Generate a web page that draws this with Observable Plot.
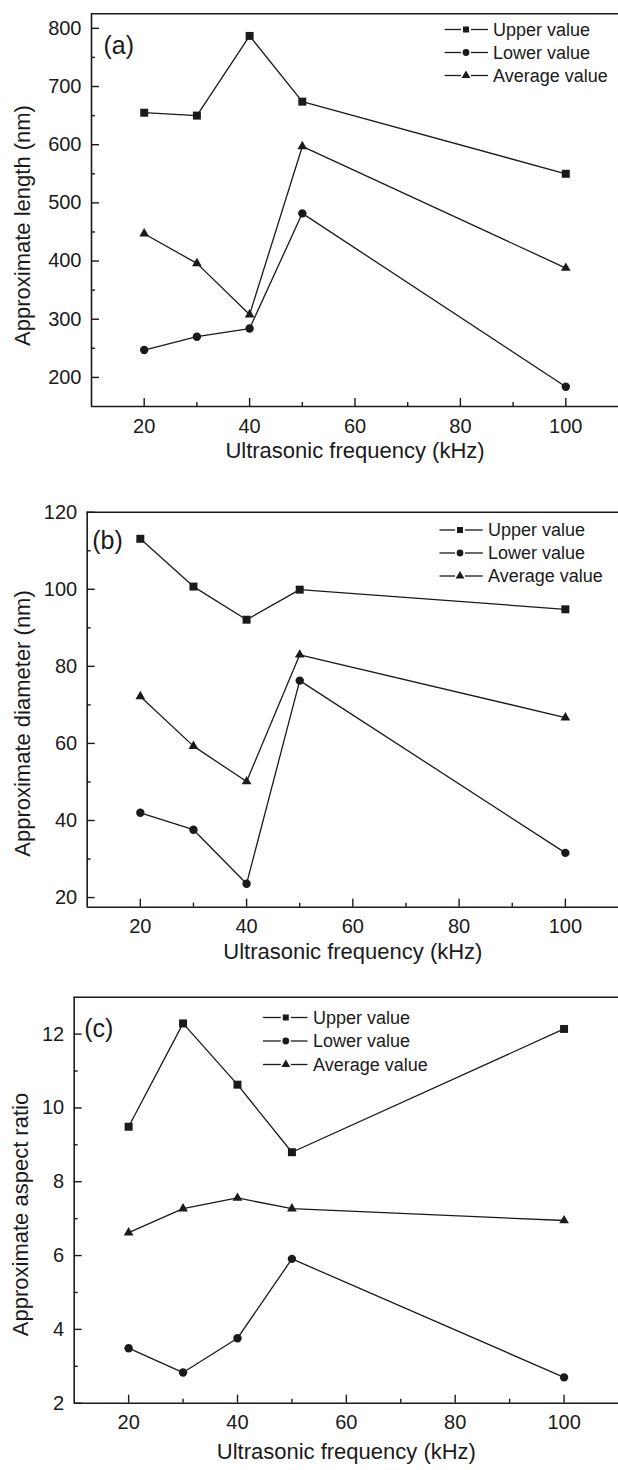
<!DOCTYPE html>
<html><head><meta charset="utf-8">
<script src="https://cdn.jsdelivr.net/npm/d3@7"></script>
<script src="https://cdn.jsdelivr.net/npm/@observablehq/plot@0.6"></script>
<style>body{margin:0;background:#fff;} #chart svg{display:block;}</style>
</head><body><div id="chart"></div>
<script>
// ---- data ----
const frequency = [20, 30, 40, 50, 100];
const seriesNames = ["Upper value", "Lower value", "Average value"];

const lengthUpper = [655, 650, 787, 674, 550];
const lengthLower = [247, 270, 284, 482, 184];
const lengthAverage = [447, 396, 308, 597, 388];

const diameterUpper = [113.1, 100.7, 92.1, 99.9, 94.8];
const diameterLower = [42.0, 37.6, 23.6, 76.3, 31.6];
const diameterAverage = [72.2, 59.3, 50.1, 83.0, 66.7];

const ratioUpper = [9.49, 12.29, 10.63, 8.80, 12.14];
const ratioLower = [3.49, 2.83, 3.76, 5.91, 2.70];
const ratioAverage = [6.62, 7.27, 7.56, 7.27, 6.95];

const xTicks = [20, 40, 60, 80, 100];
const xMinorTicks = [30, 50, 70, 90];
const lengthTicks = [200, 300, 400, 500, 600, 700, 800];
const lengthMinorTicks = [250, 350, 450, 550, 650, 750];
const diameterTicks = [20, 40, 60, 80, 100, 120];
const diameterMinorTicks = [30, 50, 70, 90, 110];
const ratioTicks = [2, 4, 6, 8, 10, 12];
const ratioMinorTicks = [3, 5, 7, 9, 11];

const xLabel = "Ultrasonic frequency (kHz)";
const panelTags = ["(a)", "(b)", "(c)"];
const yLabels = ["Approximate length (nm)", "Approximate diameter (nm)", "Approximate aspect ratio"];

// ---- layout ----
const W = 618;
const INK = "#1a1a1a";
const FONT = "'Liberation Sans', Arial, Helvetica, sans-serif";
const symbolNames = ["square", "circle", "triangle"];
const d3Symbols = [d3.symbolSquare, d3.symbolCircle, d3.symbolTriangle];
const dotR = [4.5, 4.2, 3.6];

const panels = [
  {values: [lengthUpper, lengthLower, lengthAverage], yDomain: [150, 825], yTicks: lengthTicks, yMinor: lengthMinorTicks,
   yLabel: yLabels[0], tag: panelTags[0],
   height: 470, mt: 13.3, mb: 64, ml: 91,
   xLabelDy: 51, yLabelX: 22, yLabelY: 225, tagDx: 12, tagDy: 22,
   legY: 29.5, legDy: 23, legX0: 444.6, legM: 466, legX1: 488, legText: 493},
  {values: [diameterUpper, diameterLower, diameterAverage], yDomain: [17.5, 120], yTicks: diameterTicks, yMinor: diameterMinorTicks,
   yLabel: yLabels[1], tag: panelTags[1],
   height: 490, mt: 41.7, mb: 53.3, ml: 86.7,
   xLabelDy: 52, yLabelX: 22.5, yLabelY: 253, tagDx: 5, tagDy: 19.5,
   legY: 60, legDy: 23, legX0: 439.5, legM: 460, legX1: 482.8, legText: 488},
  {values: [ratioUpper, ratioLower, ratioAverage], yDomain: [2, 13], yTicks: ratioTicks, yMinor: ratioMinorTicks,
   yLabel: yLabels[2], tag: panelTags[2],
   height: 510, mt: 36.7, mb: 67.3, ml: 73.7,
   xLabelDy: 56, yLabelX: 20, yLabelY: 254, tagDx: 10, tagDy: 22.5,
   legY: 57.5, legDy: 23.5, legX0: 263, legM: 285.8, legX1: 307.5, legText: 313}
];

const container = document.getElementById("chart");

for (const p of panels) {
  const pw = W - p.ml;
  const ph = p.height - p.mt - p.mb;
  const rows = [];
  seriesNames.forEach((s, i) => frequency.forEach((f, j) => rows.push({series: s, freq: f, value: p.values[i][j]})));

  const dotMarks = seriesNames.map((s, i) =>
    Plot.dot(rows.filter(d => d.series === s), {x: "freq", y: "value", symbol: "series", fill: INK, stroke: "none", r: dotR[i]})
  );

  const plot = Plot.plot({
    width: W, height: p.height,
    marginLeft: p.ml, marginRight: 0, marginTop: p.mt, marginBottom: p.mb,
    style: {fontFamily: FONT, fontSize: "20px", color: INK, background: "#fff", overflow: "visible"},
    x: {domain: [10, 110], ticks: xTicks, tickSize: 0, tickPadding: 12, label: null},
    y: {domain: p.yDomain, ticks: p.yTicks, tickSize: 0, tickPadding: 10, label: null},
    symbol: {domain: seriesNames, range: symbolNames},
    marks: [
      Plot.line(rows, {x: "freq", y: "value", z: "series", stroke: INK, strokeWidth: 1.3}),
      ...dotMarks,
      Plot.tickX(xTicks, {x: d => d, insetTop: ph - 8, stroke: INK, strokeWidth: 1.4}),
      Plot.tickX(xMinorTicks, {x: d => d, insetTop: ph - 4, stroke: INK, strokeWidth: 1.4}),
      Plot.tickY(p.yTicks, {y: d => d, insetRight: pw - 8, stroke: INK, strokeWidth: 1.4}),
      Plot.tickY(p.yMinor, {y: d => d, insetRight: pw - 4, stroke: INK, strokeWidth: 1.4}),
      Plot.ruleX([10], {stroke: INK, strokeWidth: 1.6}),
      Plot.ruleY([p.yDomain[0]], {stroke: INK, strokeWidth: 1.6}),
      Plot.ruleY([p.yDomain[1]], {stroke: INK, strokeWidth: 1.6}),
      Plot.text([xLabel], {text: d => d, frameAnchor: "bottom", dy: p.xLabelDy, textAnchor: "middle", fontSize: 22, fill: INK}),
      Plot.text([p.yLabel], {text: d => d, frameAnchor: "left", dx: p.yLabelX - p.ml, dy: p.yLabelY - (p.mt + ph / 2), rotate: -90, textAnchor: "middle", fontSize: 22, fill: INK}),
      Plot.text([p.tag], {text: d => d, frameAnchor: "top-left", dx: p.tagDx, dy: p.tagDy, textAnchor: "start", fontSize: 25, fill: INK})
    ]
  });

  // legend
  const g = d3.select(plot).append("g").attr("font-family", FONT).attr("font-size", 18).attr("fill", INK).attr("text-anchor", "start");
  seriesNames.forEach((name, i) => {
    const y = p.legY + i * p.legDy;
    g.append("line").attr("x1", p.legX0).attr("x2", p.legM - 5).attr("y1", y).attr("y2", y).attr("stroke", INK).attr("stroke-width", 1.3);
    g.append("line").attr("x1", p.legM + 5).attr("x2", p.legX1).attr("y1", y).attr("y2", y).attr("stroke", INK).attr("stroke-width", 1.3);
    g.append("path").attr("d", d3.symbol(d3Symbols[i], i === 2 ? 34 : 36)()).attr("transform", `translate(${p.legM},${y})`).attr("fill", INK);
    g.append("text").attr("x", p.legText).attr("y", y).attr("dy", "0.35em").attr("text-anchor", "start").text(name);
  });

  container.appendChild(plot);
}
</script>
</body></html>
